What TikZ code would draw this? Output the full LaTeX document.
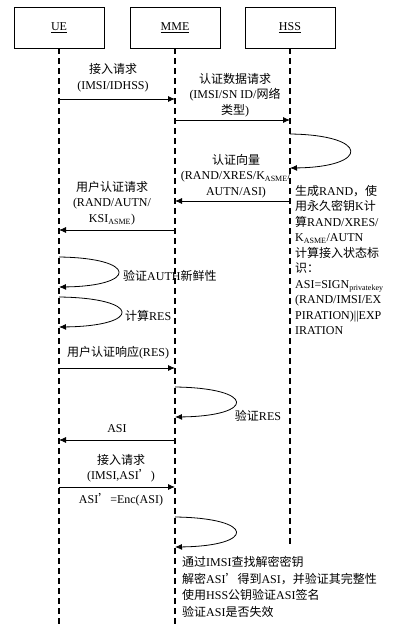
\documentclass[tikz,border=0pt]{standalone}
\usepackage{fontspec}
\setmainfont{Liberation Serif}
\newfontfamily\cjk{Noto Sans CJK SC}
\newcommand\zh[1]{{\cjk #1}}
\newcommand\sbs[1]{\textsubscript{#1}}
\usetikzlibrary{arrows.meta}
\begin{document}
\begin{tikzpicture}[x=1pt,y=-1pt,
  actor/.style={draw, line width=0.8pt, minimum width=90pt, minimum height=41pt, inner sep=0pt, font=\fontsize{12}{14}\selectfont},
  life/.style={line width=1.8pt, dash pattern=on 6pt off 4pt},
  msg/.style={line width=0.8pt, -{Latex[length=7pt,width=6pt]}},
  lbl/.style={align=center, inner sep=0pt, font=\fontsize{12}{15.5}\selectfont},
  note/.style={align=left, inner sep=0pt, font=\fontsize{12}{15.5}\selectfont},
  bignote/.style={align=left, inner sep=0pt, font=\fontsize{12}{16.7}\selectfont}]
\useasboundingbox (0,0) rectangle (402,634);
% actors
\node[actor] (ue) at (59,27.5) {\underline{UE}};
\node[actor] (mme) at (175,27.5) {\underline{MME}};
\node[actor] (hss) at (290,27.5) {\underline{HSS}};
% lifelines
\coordinate (uebot) at (59,628);
\coordinate (mmebot) at (175,628);
\coordinate (hssbot) at (290,545);
\draw[life] (ue.south) -- (uebot);
\draw[life] (mme.south) -- (mmebot);
\draw[life] (hss.south) -- (hssbot);
% message 1
\coordinate (a1) at (59,99); \coordinate (b1) at (175,99);
\draw[msg] (a1) -- (b1);
\node[lbl] (l1) at (113,77.5) {\zh{接入请求}\\(IMSI/IDHSS)};
% message 2
\coordinate (a2) at (175,120); \coordinate (b2) at (290,120);
\draw[msg] (a2) -- (b2);
\node[lbl] (l2) at (235,95) {\zh{认证数据请求}\\(IMSI/SN ID/\zh{网络}\\\zh{类型})};
% HSS loop
\coordinate (h1a) at (290,134); \coordinate (h1b) at (290,168);
\draw[msg] (h1a) .. controls (370,135) and (370,167) .. (h1b);
% message 3
\coordinate (a3) at (290,201); \coordinate (b3) at (175,201);
\draw[msg] (a3) -- (b3);
\node[lbl] (l3) at (236,176) {\zh{认证向量}\\(RAND/XRES/K\sbs{ASME}/\\AUTN/ASI)};
% message 4
\coordinate (a4) at (175,230); \coordinate (b4) at (59,230);
\draw[msg] (a4) -- (b4);
\node[lbl] (l4) at (112,203) {\zh{用户认证请求}\\(RAND/AUTN/\\KSI\sbs{ASME})};
% HSS note
\node[note, anchor=west] (hn) at (295,260) {\zh{生成}RAND\zh{，使}\\\zh{用永久密钥}K\zh{计}\\\zh{算}RAND/XRES/\\K\sbs{ASME}/AUTN\\\zh{计算接入状态标}\\\zh{识：}\\ASI=SIGN\sbs{privatekey}\\(RAND/IMSI/EX\\PIRATION)||EXP\\IRATION};
% UE loops
\coordinate (u1a) at (59,257); \coordinate (u1b) at (59,287);
\draw[msg] (u1a) .. controls (138,258) and (138,286) .. (u1b);
\node[lbl, anchor=west] (ul1) at (123,276) {\zh{验证}AUTH\zh{新鲜性}};
\coordinate (u2a) at (59,297); \coordinate (u2b) at (59,327);
\draw[msg] (u2a) .. controls (142,298) and (142,326) .. (u2b);
\node[lbl, anchor=west] (ul2) at (125,316) {\zh{计算}RES};
% message 5
\coordinate (a5) at (59,368); \coordinate (b5) at (175,368);
\draw[msg] (a5) -- (b5);
\node[lbl] (l5) at (118,353) {\zh{用户认证响应}(RES)};
% MME loop 1
\coordinate (m1a) at (175,387); \coordinate (m1b) at (175,417);
\draw[msg] (m1a) .. controls (256,388) and (256,416) .. (m1b);
\node[lbl] (ml1) at (258,416) {\zh{验证}RES};
% message 6
\coordinate (a6) at (175,440); \coordinate (b6) at (59,440);
\draw[msg] (a6) -- (b6);
\node[lbl] (l6) at (117,429) {ASI};
% message 7
\coordinate (a7) at (59,487); \coordinate (b7) at (175,487);
\draw[msg] (a7) -- (b7);
\node[lbl] (l7) at (121,468) {\zh{接入请求}\\(IMSI,ASI\zh{’})};
\node[lbl] (l7b) at (121,500) {ASI\zh{’}=Enc(ASI)};
% MME loop 2
\coordinate (m2a) at (175,517); \coordinate (m2b) at (175,547);
\draw[msg] (m2a) .. controls (256,518) and (256,546) .. (m2b);
\node[bignote, anchor=west] (bn) at (182,587) {\zh{通过}IMSI\zh{查找解密密钥}\\\zh{解密}ASI\zh{’得到}ASI\zh{，并验证其完整性}\\\zh{使用}HSS\zh{公钥验证}ASI\zh{签名}\\\zh{验证}ASI\zh{是否失效}};
\end{tikzpicture}
\end{document}
